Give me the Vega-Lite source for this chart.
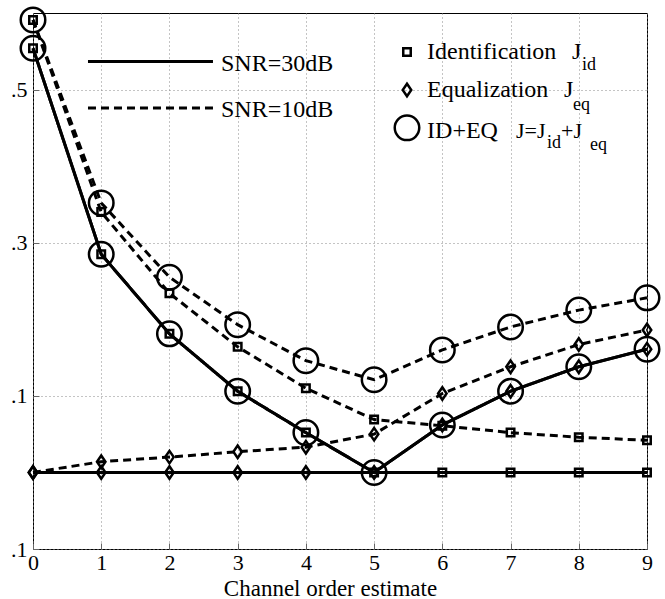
{
  "$schema": "https://vega.github.io/schema/vega-lite/v6.json",
  "width": 614,
  "height": 536,
  "autosize": {"type": "none"},
  "padding": {"left": 33, "top": 13, "right": 18, "bottom": 50},
  "background": "white",
  "config": {
    "view": {"stroke": "#000", "strokeWidth": 1},
    "font": "Liberation Serif",
    "text": {"font": "Liberation Serif", "color": "black"}
  },
  "data": {
    "values": [
      {"x": 0, "snr": "30dB", "metric": "ID", "v": 0.554},
      {"x": 1, "snr": "30dB", "metric": "ID", "v": 0.285},
      {"x": 2, "snr": "30dB", "metric": "ID", "v": 0.181},
      {"x": 3, "snr": "30dB", "metric": "ID", "v": 0.106},
      {"x": 4, "snr": "30dB", "metric": "ID", "v": 0.052},
      {"x": 5, "snr": "30dB", "metric": "ID", "v": 0.0},
      {"x": 6, "snr": "30dB", "metric": "ID", "v": 0.0},
      {"x": 7, "snr": "30dB", "metric": "ID", "v": 0.0},
      {"x": 8, "snr": "30dB", "metric": "ID", "v": 0.0},
      {"x": 9, "snr": "30dB", "metric": "ID", "v": 0.0},
      {"x": 0, "snr": "30dB", "metric": "EQ", "v": 0.0},
      {"x": 1, "snr": "30dB", "metric": "EQ", "v": 0.0},
      {"x": 2, "snr": "30dB", "metric": "EQ", "v": 0.0},
      {"x": 3, "snr": "30dB", "metric": "EQ", "v": 0.0},
      {"x": 4, "snr": "30dB", "metric": "EQ", "v": 0.0},
      {"x": 5, "snr": "30dB", "metric": "EQ", "v": 0.0},
      {"x": 6, "snr": "30dB", "metric": "EQ", "v": 0.062},
      {"x": 7, "snr": "30dB", "metric": "EQ", "v": 0.106},
      {"x": 8, "snr": "30dB", "metric": "EQ", "v": 0.138},
      {"x": 9, "snr": "30dB", "metric": "EQ", "v": 0.161},
      {"x": 0, "snr": "30dB", "metric": "J", "v": 0.554},
      {"x": 1, "snr": "30dB", "metric": "J", "v": 0.285},
      {"x": 2, "snr": "30dB", "metric": "J", "v": 0.181},
      {"x": 3, "snr": "30dB", "metric": "J", "v": 0.106},
      {"x": 4, "snr": "30dB", "metric": "J", "v": 0.052},
      {"x": 5, "snr": "30dB", "metric": "J", "v": 0.0},
      {"x": 6, "snr": "30dB", "metric": "J", "v": 0.062},
      {"x": 7, "snr": "30dB", "metric": "J", "v": 0.106},
      {"x": 8, "snr": "30dB", "metric": "J", "v": 0.138},
      {"x": 9, "snr": "30dB", "metric": "J", "v": 0.161},
      {"x": 0, "snr": "10dB", "metric": "ID", "v": 0.591},
      {"x": 1, "snr": "10dB", "metric": "ID", "v": 0.340},
      {"x": 2, "snr": "10dB", "metric": "ID", "v": 0.234},
      {"x": 3, "snr": "10dB", "metric": "ID", "v": 0.164},
      {"x": 4, "snr": "10dB", "metric": "ID", "v": 0.110},
      {"x": 5, "snr": "10dB", "metric": "ID", "v": 0.069},
      {"x": 6, "snr": "10dB", "metric": "ID", "v": 0.061},
      {"x": 7, "snr": "10dB", "metric": "ID", "v": 0.052},
      {"x": 8, "snr": "10dB", "metric": "ID", "v": 0.046},
      {"x": 9, "snr": "10dB", "metric": "ID", "v": 0.042},
      {"x": 0, "snr": "10dB", "metric": "EQ", "v": 0.0},
      {"x": 1, "snr": "10dB", "metric": "EQ", "v": 0.014},
      {"x": 2, "snr": "10dB", "metric": "EQ", "v": 0.020},
      {"x": 3, "snr": "10dB", "metric": "EQ", "v": 0.027},
      {"x": 4, "snr": "10dB", "metric": "EQ", "v": 0.033},
      {"x": 5, "snr": "10dB", "metric": "EQ", "v": 0.050},
      {"x": 6, "snr": "10dB", "metric": "EQ", "v": 0.103},
      {"x": 7, "snr": "10dB", "metric": "EQ", "v": 0.138},
      {"x": 8, "snr": "10dB", "metric": "EQ", "v": 0.167},
      {"x": 9, "snr": "10dB", "metric": "EQ", "v": 0.186},
      {"x": 0, "snr": "10dB", "metric": "J", "v": 0.591},
      {"x": 1, "snr": "10dB", "metric": "J", "v": 0.352},
      {"x": 2, "snr": "10dB", "metric": "J", "v": 0.255},
      {"x": 3, "snr": "10dB", "metric": "J", "v": 0.193},
      {"x": 4, "snr": "10dB", "metric": "J", "v": 0.146},
      {"x": 5, "snr": "10dB", "metric": "J", "v": 0.121},
      {"x": 6, "snr": "10dB", "metric": "J", "v": 0.160},
      {"x": 7, "snr": "10dB", "metric": "J", "v": 0.190},
      {"x": 8, "snr": "10dB", "metric": "J", "v": 0.212},
      {"x": 9, "snr": "10dB", "metric": "J", "v": 0.228}
    ]
  },
  "layer": [
    {
      "mark": {"type": "line", "color": "black", "strokeWidth": 3},
      "encoding": {
        "x": {
          "field": "x", "type": "quantitative",
          "scale": {"domain": [0, 9], "nice": false, "zero": false},
          "axis": {
            "values": [0, 1, 2, 3, 4, 5, 6, 7, 8, 9],
            "format": "d",
            "title": "Channel order estimate",
            "titleFont": "Liberation Serif", "titleFontSize": 23, "titleFontWeight": "normal",
            "titleColor": "black", "titleY": 46, "titleX": 297, "titleBaseline": "alphabetic", "titleAlign": "center",
            "labelFont": "Liberation Serif", "labelFontSize": 22, "labelColor": "black",
            "labelPadding": 9, "labelFlush": false, "labelOverlap": false,
            "ticks": true, "tickSize": -6, "tickColor": "#666", "tickWidth": 1,
            "domain": false,
            "grid": true, "gridDash": [1, 3], "gridColor": "#888", "gridWidth": 1
          }
        },
        "y": {
          "field": "v", "type": "quantitative",
          "scale": {"domain": [-0.1, 0.6], "nice": false, "zero": false},
          "axis": {
            "values": [-0.1, 0.1, 0.3, 0.5],
            "title": null,
            "labelExpr": "'.' + format(abs(datum.value) * 10, 'd')",
            "labelFont": "Liberation Serif", "labelFontSize": 22, "labelColor": "black",
            "labelPadding": 12, "labelFlush": false, "labelOverlap": false,
            "ticks": true, "tickSize": -6, "tickColor": "#666", "tickWidth": 1,
            "domain": false,
            "grid": true, "gridDash": [1, 3], "gridColor": "#888", "gridWidth": 1
          }
        },
        "strokeDash": {
          "field": "snr", "type": "nominal",
          "scale": {"domain": ["30dB", "10dB"], "range": [[1, 0], [8, 5]]},
          "legend": null
        },
        "detail": {"field": "metric", "type": "nominal"}
      }
    },
    {
      "transform": [{"filter": "datum.metric == 'ID'"}],
      "mark": {"type": "point", "shape": "square", "size": 56, "filled": false, "color": "black", "strokeWidth": 2.5, "opacity": 1},
      "encoding": {
        "x": {"field": "x", "type": "quantitative"},
        "y": {"field": "v", "type": "quantitative"}
      }
    },
    {
      "transform": [{"filter": "datum.metric == 'EQ'"}],
      "mark": {"type": "point", "shape": "M0,-1L0.68,0L0,1L-0.68,0Z", "size": 156, "filled": false, "color": "black", "strokeWidth": 2.5, "opacity": 1},
      "encoding": {
        "x": {"field": "x", "type": "quantitative"},
        "y": {"field": "v", "type": "quantitative"}
      }
    },
    {
      "transform": [{"filter": "datum.metric == 'J'"}],
      "mark": {"type": "point", "shape": "circle", "size": 600, "filled": false, "color": "black", "strokeWidth": 2.5, "opacity": 1},
      "encoding": {
        "x": {"field": "x", "type": "quantitative"},
        "y": {"field": "v", "type": "quantitative"}
      }
    },
    {
      "data": {"values": [{}]},
      "mark": {"type": "rule", "color": "black", "strokeWidth": 3},
      "encoding": {"x": {"datum": 0.806}, "x2": {"datum": 2.638}, "y": {"datum": 0.5368}}
    },
    {
      "data": {"values": [{}]},
      "mark": {"type": "rule", "color": "black", "strokeWidth": 3, "strokeDash": [8, 5]},
      "encoding": {"x": {"datum": 0.806}, "x2": {"datum": 2.638}, "y": {"datum": 0.476}}
    },
    {
      "data": {"values": [{}]},
      "mark": {"type": "text", "text": "SNR=30dB", "fontSize": 24, "align": "left", "baseline": "alphabetic"},
      "encoding": {"x": {"datum": 2.756}, "y": {"datum": 0.5244}}
    },
    {
      "data": {"values": [{}]},
      "mark": {"type": "text", "text": "SNR=10dB", "fontSize": 24, "align": "left", "baseline": "alphabetic"},
      "encoding": {"x": {"datum": 2.756}, "y": {"datum": 0.4643}}
    },
    {
      "data": {"values": [{}]},
      "mark": {"type": "point", "shape": "square", "size": 56, "filled": false, "color": "black", "strokeWidth": 2.5, "opacity": 1},
      "encoding": {"x": {"datum": 5.482}, "y": {"datum": 0.549}}
    },
    {
      "data": {"values": [{}]},
      "mark": {"type": "point", "shape": "M0,-1L0.68,0L0,1L-0.68,0Z", "size": 156, "filled": false, "color": "black", "strokeWidth": 2.5, "opacity": 1},
      "encoding": {"x": {"datum": 5.482}, "y": {"datum": 0.4995}}
    },
    {
      "data": {"values": [{}]},
      "mark": {"type": "point", "shape": "circle", "size": 600, "filled": false, "color": "black", "strokeWidth": 2.5, "opacity": 1},
      "encoding": {"x": {"datum": 5.482}, "y": {"datum": 0.450}}
    },
    {
      "data": {"values": [{}]},
      "mark": {"type": "text", "text": "Identification", "fontSize": 24, "align": "left", "baseline": "alphabetic"},
      "encoding": {"x": {"datum": 5.776}, "y": {"datum": 0.540}}
    },
    {
      "data": {"values": [{}]},
      "mark": {"type": "text", "text": "J", "fontSize": 24, "align": "left", "baseline": "alphabetic"},
      "encoding": {"x": {"datum": 7.901}, "y": {"datum": 0.540}}
    },
    {
      "data": {"values": [{}]},
      "mark": {"type": "text", "text": "id", "fontSize": 18, "align": "left", "baseline": "alphabetic"},
      "encoding": {"x": {"datum": 8.047}, "y": {"datum": 0.5257}}
    },
    {
      "data": {"values": [{}]},
      "mark": {"type": "text", "text": "Equalization", "fontSize": 24, "align": "left", "baseline": "alphabetic"},
      "encoding": {"x": {"datum": 5.776}, "y": {"datum": 0.4904}}
    },
    {
      "data": {"values": [{}]},
      "mark": {"type": "text", "text": "J", "fontSize": 24, "align": "left", "baseline": "alphabetic"},
      "encoding": {"x": {"datum": 7.784}, "y": {"datum": 0.4904}}
    },
    {
      "data": {"values": [{}]},
      "mark": {"type": "text", "text": "eq", "fontSize": 18, "align": "left", "baseline": "alphabetic"},
      "encoding": {"x": {"datum": 7.916}, "y": {"datum": 0.4734}}
    },
    {
      "data": {"values": [{}]},
      "mark": {"type": "text", "text": "ID+EQ", "fontSize": 24, "align": "left", "baseline": "alphabetic"},
      "encoding": {"x": {"datum": 5.776}, "y": {"datum": 0.4369}}
    },
    {
      "data": {"values": [{}]},
      "mark": {"type": "text", "text": "J=J", "fontSize": 22, "align": "left", "baseline": "alphabetic"},
      "encoding": {"x": {"datum": 7.080}, "y": {"datum": 0.4369}}
    },
    {
      "data": {"values": [{}]},
      "mark": {"type": "text", "text": "id", "fontSize": 18, "align": "left", "baseline": "alphabetic"},
      "encoding": {"x": {"datum": 7.535}, "y": {"datum": 0.4238}}
    },
    {
      "data": {"values": [{}]},
      "mark": {"type": "text", "text": "+J", "fontSize": 22, "align": "left", "baseline": "alphabetic"},
      "encoding": {"x": {"datum": 7.740}, "y": {"datum": 0.4369}}
    },
    {
      "data": {"values": [{}]},
      "mark": {"type": "text", "text": "eq", "fontSize": 18, "align": "left", "baseline": "alphabetic"},
      "encoding": {"x": {"datum": 8.165}, "y": {"datum": 0.4212}}
    }
  ]
}
